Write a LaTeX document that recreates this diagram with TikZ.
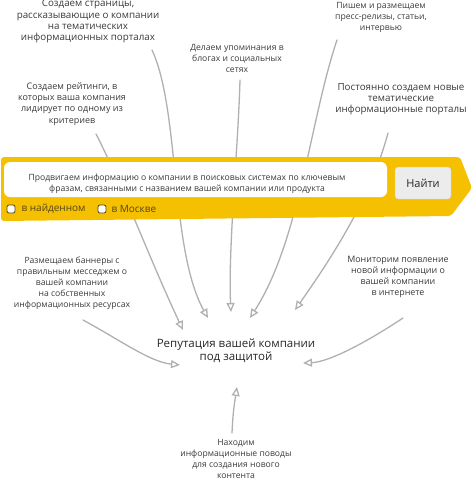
\documentclass[tikz,border=0pt]{standalone}
\usepackage{fontspec}
\setmainfont{Open Sans}
\usetikzlibrary{arrows.meta, positioning, calc}
\definecolor{barfill}{RGB}{245, 192, 0}
\definecolor{linkgray}{RGB}{176, 176, 176}
\definecolor{ink}{RGB}{58, 58, 58}
\definecolor{button}{RGB}{236, 236, 236}
\definecolor{buttonline}{RGB}{205, 205, 205}
\definecolor{boxline}{RGB}{85, 70, 25}

\begin{document}
\begin{tikzpicture}[x=1pt, y=-1pt,
    note/.style={align=center, text=ink, font=\fontsize{8.6}{11}\selectfont, inner sep=0pt},
    bignote/.style={note, font=\fontsize{9.8}{11.3}\selectfont},
    pointer/.style={draw=linkgray, line width=1.3pt, line cap=round, -{Triangle[open, length=9pt, width=8pt]}},
    checkbox/.style={draw=boxline, fill=white, rounded corners=2pt, minimum size=8pt, inner sep=0pt, line width=0.8pt},
    checklabel/.style={text=boxline, font=\fontsize{10}{12}\selectfont, inner sep=0pt}]
    \useasboundingbox (0,0) rectangle (472,480);

    % what we do for the reputation
    \node[bignote] (pages) at (88, 21.5) {Создаем страницы,\\рассказывающие о компании\\на тематических\\информационных порталах};
    \node[note, font=\fontsize{9}{11.3}\selectfont] (ratings) at (72, 104) {Создаем рейтинги, в\\которых ваша компания\\лидирует по одному из\\критериев};
    \node[note] (blogs) at (237, 58) {Делаем упоминания в\\блогах и социальных\\сетях};
    \node[note] (press) at (381, 17) {Пишем и размещаем\\пресс-релизы, статьи,\\интервью};
    \node[bignote] (portals) at (401, 99) {Постоянно создаем новые\\тематические\\информационные порталы};
    \node[note] (banners) at (72, 283) {Размещаем баннеры с\\правильным месседжем о\\вашей компании\\на собственных\\информационных ресурсах};
    \node[note, font=\fontsize{8.9}{11}\selectfont] (monitor) at (398, 277) {Мониторим появление\\новой информации о\\вашей компании\\в интернете};
    \node[note] (news) at (236, 459) {Находим\\информационные поводы\\для создания нового\\контента};
    \node[note, font=\fontsize{11.5}{13}\selectfont, text=black!85] (rep) at (236, 351) {Репутация вашей компании\\под защитой};

    % arrows into the center
    \draw[pointer] ([shift={(24,30)}]ratings.center) .. controls +(24,46) and +(-33,-70) .. ([shift={(-53,-21)}]rep.center);
    \draw[pointer] ([shift={(64,28.5)}]pages.center) .. controls +(28,60) and +(-38,-68) .. ([shift={(-28,-33)}]rep.center);
    \draw[pointer] ([shift={(3,22)}]blogs.center) .. controls +(-2,70) and +(-3,-62) .. ([shift={(-5,-39)}]rep.center);
    \draw[pointer] ([shift={(-44,23)}]press.center) .. controls +(-27,80) and +(50,-78) .. ([shift={(14,-33)}]rep.center);
    \draw[pointer] ([shift={(-13,34)}]portals.center) .. controls +(-18,67) and +(35,-50) .. ([shift={(59,-41)}]rep.center);
    \draw[pointer] ([shift={(11,37)}]banners.center) .. controls +(37,20) and +(-30,-3) .. ([shift={(-56,14)}]rep.center);
    \draw[pointer] ([shift={(5,41)}]monitor.center) .. controls +(-33,22) and +(27,-1) .. ([shift={(67,12)}]rep.center);
    \draw[pointer] ([shift={(-4,-26)}]news.center) .. controls +(1,-23) and +(-2,13) .. ([shift={(1,36)}]rep.center);

    % search bar
    \fill[barfill, rounded corners=3pt] (1,157) -- (460,157) -- (472,188) -- (451,216) -- (1,221) -- cycle;
    \fill[white, rounded corners=6pt] (4,162) rectangle (387,197);
    \node[note, font=\fontsize{8.6}{11}\selectfont] (query) at (187, 183.5) {Продвигаем информацию о компании в поисковых системах по ключевым\\фразам, связанными с названием вашей компании или продукта};
    \node[draw=buttonline, fill=button, rounded corners=3pt, minimum width=56pt, minimum height=32pt,
          font=\fontsize{11}{13}\selectfont, text=black!85] (find) at (423, 183) {Найти};
    \node[checkbox] (found) at (11, 209) {};
    \node[checklabel, right=6pt of found] (foundtext) {в найденном};
    \node[checkbox] (moscow) at (102, 209) {};
    \node[checklabel, right=5pt of moscow] (moscowtext) {в Москве};
\end{tikzpicture}
\end{document}
